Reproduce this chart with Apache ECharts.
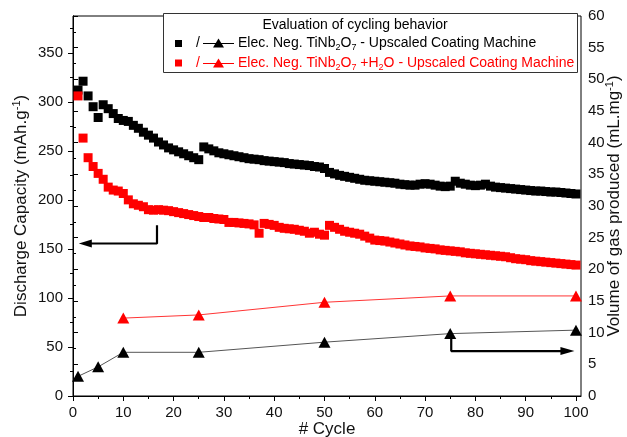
<!DOCTYPE html>
<html><head><meta charset="utf-8">
<script src="https://cdn.jsdelivr.net/npm/echarts@6/dist/echarts.min.js"></script>
<style>html,body{margin:0;padding:0;background:#fff}#c{width:627px;height:437px}</style>
</head><body><div id="c"></div>
<script>
const cycles = [1,2,3,4,5,6,7,8,9,10,11,12,13,14,15,16,17,18,19,20,21,22,23,24,25,26,27,28,29,30,31,32,33,34,35,36,37,38,39,40,41,42,43,44,45,46,47,48,49,50,51,52,53,54,55,56,57,58,59,60,61,62,63,64,65,66,67,68,69,70,71,72,73,74,75,76,77,78,79,80,81,82,83,84,85,86,87,88,89,90,91,92,93,94,95,96,97,98,99,100];
const capBlack = [
312,321,306,295,284,297,293,288,283,281,
280,276,273,269,266,263,259,256,253,251,
249,247,245,243,241,254,252,250,248,247,
246,245,244,243,242,241.5,241,240,239.5,239,
238.5,238,237,236.5,236,235.5,235,234,233.5,232,
228,226.5,225,224,223,222,221,220,219.5,219,
218.5,218,217.5,217,216,215.5,215,215,216,216.5,
216,215,214,213.5,214,219,217,216,215,214.5,
215,216,214,213,212.5,212,211.5,211,210.5,210,
209.5,209,209,208.5,208,208,207.5,207,206.5,206];
const capRed = [
306,263,243,234,227,221,213,210,209,206.5,
200,196,194.5,193,190,189.5,190,189.5,189,188,
187,186,185,184,183,182,182,181,180.5,180,
177,177,176.5,176,175.5,174.5,166,176,175,174,
172,171,170.5,170,169,168,166,167,165,164,
174,172,170,168,167,166,165,163,161,159,
158.5,158,157,156,155,154,153,152.5,152,151,
150.5,150,149,148.5,148,147.5,147,146,145.5,145,
144.5,144,143.5,143,142.5,142,141,140,139.5,139,
138,137.5,137,136.5,136,135.5,135,134.5,134,133.5];
const gasBlackCycles = [1,5,10,25,50,75,100];
const gasBlack = [3.1,4.6,6.9,6.9,8.5,9.85,10.4];
const gasRedCycles = [10,25,50,75,100];
const gasRed = [12.3,12.8,14.8,15.8,15.8];
const xTicks = [0,10,20,30,40,50,60,70,80,90,100];
const xMinorTicks = [5,15,25,35,45,55,65,75,85,95];
const yLeftTicks = [0,50,100,150,200,250,300,350];
const yLeftMinorTicks = [25,75,125,175,225,275,325,375];
// arrow annotation paths (data coordinates)
const arrowLeft = [[16.7,174.2],[16.7,155.5],[2.45,155.5]];
const arrowRight = [[75.2,9.07],[75.2,7.1],[98.3,7.1]];

const FF = '"Liberation Sans", Arial, sans-serif';
const zip = (xs, ys) => xs.map((x, i) => [x, ys[i]]);

const chart = echarts.init(document.getElementById('c'));
const axisLineStyle = {color: '#000', width: 1};
const supRich = {sup: {fontSize: 11, lineHeight: 11, verticalAlign: 'top', color: '#111', fontFamily: FF}};
chart.setOption({
  animation: false,
  textStyle: {fontFamily: FF},
  grid: {left: 73, right: 46, top: 16, bottom: 41, containLabel: false, outerBoundsMode: 'none',
         show: true, borderColor: '#000', borderWidth: 1, backgroundColor: 'transparent'},
  xAxis: [{
    type: 'value', min: 0, max: 101, position: 'bottom',
    axisLine: {show: true, lineStyle: axisLineStyle},
    axisTick: {show: true, inside: false, length: 5, customValues: xTicks, lineStyle: {color: '#000'}},
    axisLabel: {customValues: xTicks, fontSize: 15, color: '#111', margin: 9, fontFamily: FF},
    splitLine: {show: false},
    name: '# Cycle', nameLocation: 'middle', nameGap: 23, nameMoveOverlap: false,
    nameTextStyle: {fontSize: 17, color: '#111', fontFamily: FF, lineHeight: 20}
  }, {
    type: 'value', min: 0, max: 101, position: 'bottom',
    axisLine: {show: false},
    axisTick: {show: true, inside: false, length: 3, customValues: xMinorTicks, lineStyle: {color: '#000'}},
    axisLabel: {show: false},
    splitLine: {show: false}
  }],
  yAxis: [{
    type: 'value', min: 0, max: 387.5, position: 'left',
    axisLine: {show: true, lineStyle: axisLineStyle},
    axisTick: {show: true, inside: false, length: 5, customValues: yLeftTicks, lineStyle: {color: '#000'}},
    axisLabel: {customValues: yLeftTicks, fontSize: 15, color: '#111', margin: 10, fontFamily: FF},
    splitLine: {show: false},
    name: 'Discharge Capacity (mAh.g{sup|-1})', nameLocation: 'middle', nameGap: 42, nameRotate: 90, nameMoveOverlap: false,
    nameTextStyle: {fontSize: 17, color: '#111', fontFamily: FF, lineHeight: 20, rich: supRich}
  }, {
    type: 'value', min: 0, max: 60, interval: 5, position: 'right',
    axisLine: {show: true, lineStyle: axisLineStyle},
    axisTick: {show: true, inside: false, length: 5, lineStyle: {color: '#000'}},
    minorTick: {show: true, splitNumber: 2, length: 3, lineStyle: {color: '#000'}},
    axisLabel: {fontSize: 15, color: '#111', margin: 7, fontFamily: FF},
    splitLine: {show: false},
    name: 'Volume of gas produced (mL.mg{sup|-1})', nameLocation: 'middle', nameGap: 23, nameRotate: 90, nameMoveOverlap: false,
    nameTextStyle: {fontSize: 17, color: '#111', fontFamily: FF, lineHeight: 20, rich: supRich}
  }, {
    type: 'value', min: 0, max: 387.5, position: 'left',
    axisLine: {show: false},
    axisTick: {show: true, inside: false, length: 3, customValues: yLeftMinorTicks, lineStyle: {color: '#000'}},
    axisLabel: {show: false},
    splitLine: {show: false}
  }],
  series: [
    {type: 'line', name: 'gasBlack', xAxisIndex: 0, yAxisIndex: 1, data: zip(gasBlackCycles, gasBlack),
     symbol: 'triangle', symbolSize: [12, 11], itemStyle: {color: '#000'}, lineStyle: {color: '#555', width: 1}, z: 3},
    {type: 'line', name: 'gasRed', xAxisIndex: 0, yAxisIndex: 1, data: zip(gasRedCycles, gasRed),
     symbol: 'triangle', symbolSize: [12, 11], itemStyle: {color: '#ff0000'}, lineStyle: {color: '#ff0000', width: 0.8}, z: 3},
    {type: 'scatter', name: 'capBlack', xAxisIndex: 0, yAxisIndex: 0, data: zip(cycles, capBlack),
     symbol: 'rect', symbolSize: 9, itemStyle: {color: '#000', opacity: 1}, z: 4},
    {type: 'scatter', name: 'capRed', xAxisIndex: 0, yAxisIndex: 0, data: zip(cycles, capRed),
     symbol: 'rect', symbolSize: 9, itemStyle: {color: '#ff0000', opacity: 1}, z: 4},
    {type: 'line', name: 'arrowL', xAxisIndex: 0, yAxisIndex: 0, data: arrowLeft, showSymbol: false, symbol: 'none',
     lineStyle: {color: '#000', width: 2.2}, z: 5},
    {type: 'scatter', name: 'arrowLHead', xAxisIndex: 0, yAxisIndex: 0, data: [arrowLeft[2]],
     symbol: 'triangle', symbolSize: [8, 13], symbolRotate: 90, itemStyle: {color: '#000', opacity: 1}, z: 5},
    {type: 'line', name: 'arrowR', xAxisIndex: 0, yAxisIndex: 1, data: arrowRight, showSymbol: false, symbol: 'none',
     lineStyle: {color: '#000', width: 2.2}, z: 5},
    {type: 'scatter', name: 'arrowRHead', xAxisIndex: 0, yAxisIndex: 1, data: [arrowRight[2]],
     symbol: 'triangle', symbolSize: [8, 14], symbolRotate: -90, itemStyle: {color: '#000', opacity: 1}, z: 5}
  ],
  graphic: [
    {type: 'rect', z: 100, shape: {x: 163.5, y: 13.5, width: 414, height: 59}, style: {fill: '#fff', stroke: '#333', lineWidth: 1}},
    {type: 'text', z: 101, x: 355, y: 25, style: {text: 'Evaluation of cycling behavior', fontSize: 14, fontFamily: FF, fill: '#000', align: 'center', verticalAlign: 'middle'}},
    // row 1
    {type: 'rect', z: 101, shape: {x: 175, y: 40, width: 7, height: 7}, style: {fill: '#000'}},
    {type: 'text', z: 101, x: 198, y: 43.5, style: {text: '/', fontSize: 14, fontFamily: FF, fill: '#000', align: 'center', verticalAlign: 'middle'}},
    {type: 'line', z: 101, shape: {x1: 203, y1: 43.5, x2: 234, y2: 43.5}, style: {stroke: '#000', lineWidth: 1}},
    {type: 'polygon', z: 102, shape: {points: [[218.5, 38.5], [224, 47.5], [213, 47.5]]}, style: {fill: '#000'}},
    {type: 'text', z: 101, x: 238, y: 43.5, style: {text: 'Elec. Neg. TiNb{sub|2}O{sub|7} - Upscaled Coating Machine', fontSize: 14, fontFamily: FF, fill: '#000', align: 'left', verticalAlign: 'middle', lineHeight: 18,
      rich: {sub: {fontSize: 9, lineHeight: 9, verticalAlign: 'bottom', fill: '#000', fontFamily: FF}}}},
    // row 2
    {type: 'rect', z: 101, shape: {x: 175, y: 59.5, width: 7, height: 7}, style: {fill: '#ff0000'}},
    {type: 'text', z: 101, x: 198, y: 63, style: {text: '/', fontSize: 14, fontFamily: FF, fill: '#ff0000', align: 'center', verticalAlign: 'middle'}},
    {type: 'line', z: 101, shape: {x1: 203, y1: 63.5, x2: 234, y2: 63.5}, style: {stroke: '#ff0000', lineWidth: 1}},
    {type: 'polygon', z: 102, shape: {points: [[218.5, 58.5], [224, 67.5], [213, 67.5]]}, style: {fill: '#ff0000'}},
    {type: 'text', z: 101, x: 238, y: 63, style: {text: 'Elec. Neg. TiNb{sub|2}O{sub|7} +H{sub|2}O - Upscaled Coating Machine', fontSize: 14, fontFamily: FF, fill: '#ff0000', align: 'left', verticalAlign: 'middle', lineHeight: 18,
      rich: {sub: {fontSize: 9, lineHeight: 9, verticalAlign: 'bottom', fill: '#ff0000', fontFamily: FF}}}}
  ]
});
</script></body></html>
